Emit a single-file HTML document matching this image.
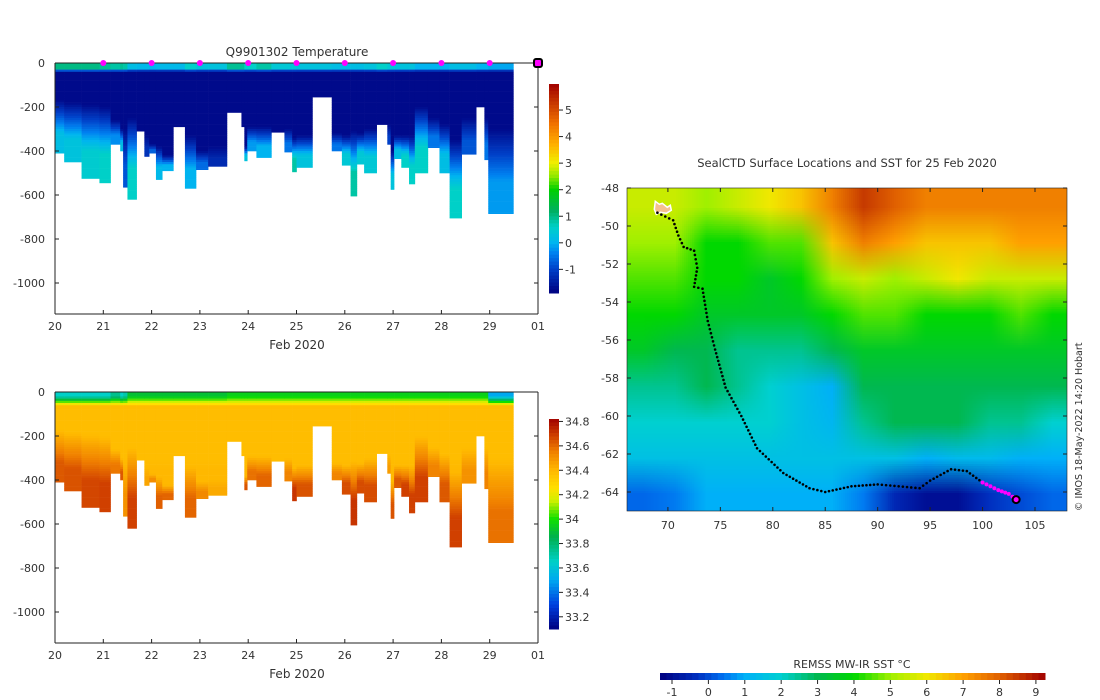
<!DOCTYPE html>
<html><head><meta charset="utf-8">
<style>
html,body{margin:0;padding:0;background:#fff;}
#wrap{position:relative;width:1100px;height:700px;overflow:hidden;font-family:"DejaVu Sans","Liberation Sans",sans-serif;}
svg{position:absolute;left:0;top:0;}
#sst{position:absolute;left:627px;top:188px;width:440px;height:323px;image-rendering:auto;}
text{font-family:"DejaVu Sans","Liberation Sans",sans-serif;fill:#333;}
</style></head>
<body>
<div id="wrap">
<canvas id="sst" width="14" height="9"></canvas>
<svg id="fig" width="1100" height="700" xmlns="http://www.w3.org/2000/svg"></svg>
</div>
<script>
// ---------- profile data ----------
const profileStart=[0,.19,.55,.92,1.15,1.35,1.41,1.50,1.69,1.85,1.95,2.09,2.22,2.45,2.69,2.92,3.17,3.56,3.86,3.92,3.98,4.17,4.48,4.75,4.91,5.00,5.33,5.73,5.94,6.12,6.25,6.40,6.66,6.88,6.95,7.02,7.17,7.33,7.45,7.72,7.96,8.17,8.42,8.72,8.89,8.97];
const profileEndLast=9.49;
const maxDepth=[410,450,525,545,370,400,565,620,310,425,410,530,490,290,570,485,470,225,290,445,400,430,315,405,495,475,155,400,465,605,460,500,280,370,575,435,475,550,500,385,500,705,415,200,440,685];
const coreBottom=[170,180,190,200,260,300,300,250,310,330,370,380,420,290,330,400,380,225,290,380,290,290,315,300,340,330,155,320,330,310,320,300,280,280,400,330,330,330,200,250,280,350,250,200,250,300];
const bottomTemp=[0.2,0.3,0.5,0.6,-0.3,0.2,-0.8,0.6,-1.7,-1.2,-0.7,0.1,0.0,-1.7,0.0,-0.6,-1.3,-1.7,-1.7,0.3,-0.2,0.0,-1.7,-0.5,0.8,0.3,-1.7,-0.5,0.4,0.8,0.4,0.4,-1.7,-1.0,0.3,0.2,0.6,0.6,0.6,-0.5,0.2,0.6,-0.8,-1.7,-0.5,-0.2];
const surfTemp=[1.0,1.0,1.0,0.9,0.8,0.9,0.8,0.2,0.1,0.1,0,0.1,0.1,0.1,0.6,0.3,0.3,0.9,0.9,0.6,0.6,0.8,0.4,0.4,0.4,0.3,0.3,0.2,0.2,0.2,0.2,0.3,0.6,0.4,0.4,0.3,0.3,0.3,0,0,0,0.2,0.2,0,0,-0.1];
const surfSal=[33.65,33.65,33.65,33.65,33.75,33.65,33.7,33.9,33.9,33.9,33.9,33.9,33.9,33.9,33.9,33.9,33.9,33.95,33.95,33.95,33.95,33.95,33.95,33.95,33.95,33.95,33.95,33.95,33.95,33.95,33.95,33.95,33.95,33.95,33.95,33.95,33.95,33.95,33.95,33.95,33.95,33.95,33.95,33.95,33.95,33.5];
const surfaceDays=[1,2,3,4,5,6,7,8,9];
const currentDay=10;
const dayTicks=[0,1,2,3,4,5,6,7,8,9,10];
const dayLabels=["20","21","22","23","24","25","26","27","28","29","01"];
const depthTicks=[0,-200,-400,-600,-800,-1000];
const tempTicks=[5,4,3,2,1,0,-1];
const salTicks=[34.8,34.6,34.4,34.2,34,33.8,33.6,33.4,33.2];
const sstTicks=[-1,0,1,2,3,4,5,6,7,8,9];
// ---------- map data ----------
const mapLons=[67.5,70.5,73.5,76.5,79.5,82.5,85.5,88.5,91.5,94.5,97.5,100.5,103.5,106.5];
const sstGrid=[
[5.5,5.5,5,5.5,6,6.5,7.5,8.5,8,7.5,7.5,7.5,7.5,7.5],
[5,5,4,4,4.5,4.5,6.5,7.5,7,6.5,6.5,6.5,7,7],
[4.5,4.5,4,4,3.5,4,5,5.5,5,5.5,6,5.5,5.5,5.5],
[4,4,3.5,3.5,3.5,3.5,4,4.5,4.5,4,4,4,4.5,4],
[3.5,3,3,2.5,2.5,2.5,3,3.5,3.5,3.5,3.5,3.5,3.5,3.5],
[2.5,2.5,3,2.5,2,1.5,1,3,3,3,3,3,3,3],
[2,2,2,2,2,1.5,1.2,2.5,3,3,3,2.5,2.5,2],
[1.5,1.5,1.5,1.5,1.5,1.5,1.5,1.5,1.5,1,1.3,1.3,1,1],
[0.3,0.5,1,1,1,1,1,0.5,-0.5,-1,-1,-0.3,0,0.3]];
const trackLon=[69,70.5,71,71.5,72.5,72.8,72.5,73.3,73.8,74.5,75.5,77,78.5,81,83.5,85,87.5,90,92,94,95,97,98.5,100,101.5,102.5,103.2];
const trackLat=[-49.3,-49.7,-50.5,-51.1,-51.3,-52.2,-53.2,-53.3,-55,-56.5,-58.5,-60,-61.7,-63,-63.8,-64,-63.7,-63.6,-63.7,-63.8,-63.4,-62.8,-62.9,-63.5,-63.9,-64.1,-64.4];
const latTicks=[-48,-50,-52,-54,-56,-58,-60,-62,-64];
const lonTicks=[70,75,80,85,90,95,100,105];

// ---------- colormaps ----------
function cmap(stops,v){
  if(v<=stops[0][0])return stops[0][1];
  for(let i=1;i<stops.length;i++){if(v<=stops[i][0]){const a=stops[i-1],b=stops[i],t=(v-a[0])/(b[0]-a[0]);
    const c1=hex(a[1]),c2=hex(b[1]);return `rgb(${Math.round(c1[0]+(c2[0]-c1[0])*t)},${Math.round(c1[1]+(c2[1]-c1[1])*t)},${Math.round(c1[2]+(c2[2]-c1[2])*t)})`;}}
  return stops[stops.length-1][1];
}
function hex(h){if(h[0]!=='#')return h.match(/\d+/g).map(Number);return [parseInt(h.substr(1,2),16),parseInt(h.substr(3,2),16),parseInt(h.substr(5,2),16)];}
const tStops=[[-1.89,'#000080'],[-1,'#0040c8'],[-0.4,'#0080f0'],[0,'#00b4f0'],[0.6,'#00d0c8'],[1.2,'#00b060'],[2,'#00d000'],[2.5,'#90e800'],[3,'#f0f000'],[3.7,'#ffb000'],[4.5,'#f07000'],[5.98,'#a00000']];
const sStops=[[33.1,'#000080'],[33.3,'#0040e0'],[33.5,'#00a8f0'],[33.65,'#00d0c8'],[33.85,'#00b050'],[34.0,'#10e000'],[34.15,'#d0f000'],[34.25,'#ffe000'],[34.4,'#ffb800'],[34.55,'#f08000'],[34.68,'#d04000'],[34.82,'#a00000']];
const sstStops=[[-1.33,'#000080'],[-0.3,'#0030c0'],[0.4,'#0070f0'],[1,'#00b0f8'],[2,'#00d0d0'],[3,'#00b850'],[4,'#00d800'],[5,'#a0f000'],[6,'#f0e800'],[7,'#ffa000'],[8,'#e06000'],[9.25,'#a00000']];

// ---------- svg helpers ----------
const NS='http://www.w3.org/2000/svg';
const svg=document.getElementById('fig');
function el(tag,attrs,parent,txt){const e=document.createElementNS(NS,tag);for(const k in attrs)e.setAttribute(k,attrs[k]);if(txt!==undefined)e.textContent=txt;(parent||svg).appendChild(e);return e;}
function grp(name){const g=el('g',{});


return g;}

// ---------- section plot ----------
const X0=55,X1=538;
const xDay=d=>X0+(X1-X0)*d/10;
function tempAt(i,d){if(d<25)return surfTemp[i];if(d<40)return surfTemp[i]+(-1.75-surfTemp[i])*(d-25)/15;if(d<coreBottom[i])return -1.75;
  const span=Math.max(maxDepth[i]-coreBottom[i],1);return -1.75+(bottomTemp[i]+1.75)*Math.min(1,(d-coreBottom[i])/span*1.6);}
function salAt(i,d){if(d<20)return surfSal[i];if(d<60)return surfSal[i]+(34.3-surfSal[i])*(d-20)/40;
  const T=tempAt(i,d);const deep=34.38+0.32*(T+1.75)/2.5;const base=34.3+0.1*Math.min(1,(d-60)/300);return Math.max(base,deep);}

function section(top,title,fn,stops,cbTop,cbBot,vTop,vBot,ticks,prefix,showMarks){
  const yD=m=>top+0.22*(-m)*-1;
  const ydepth=m=>top+0.22*m; // m positive depth
  const g=grp(prefix+'-panel');
  if(title){const t=el('text',{x:297,y:top-7,'text-anchor':'middle','font-size':12,fill:'#222'},g,title);
    
    }
  const cg=grp(prefix+'-profiles');g.appendChild(cg);
  for(let i=0;i<profileStart.length;i++){
    const xa=xDay(profileStart[i]),xb=xDay(i+1<profileStart.length?profileStart[i+1]:profileEndLast);
    const step=10;
    for(let d=0;d<maxDepth[i];d+=step){
      const h=Math.min(step,maxDepth[i]-d);
      const r=el('rect',{x:xa.toFixed(2),y:ydepth(d).toFixed(2),width:(xb-xa+0.3).toFixed(2),height:(0.22*h+0.3).toFixed(2),fill:cmap(stops,fn(i,d+h/2))},cg);
      
      
    }
  }
  // axes
  const bottom=top+251;
  el('line',{x1:X0,y1:top,x2:X0,y2:bottom,stroke:'#222','stroke-width':1},g);
  el('line',{x1:X0,y1:bottom,x2:X1,y2:bottom,stroke:'#222','stroke-width':1},g);
  el('line',{x1:X1,y1:top,x2:X1,y2:bottom,stroke:'#222','stroke-width':1},g);
  el('line',{x1:X0,y1:top,x2:X1,y2:top,stroke:'#222','stroke-width':1},g);
  depthTicks.forEach(v=>{const y=ydepth(-v);el('line',{x1:X0,y1:y,x2:X0+4,y2:y,stroke:'#222'},g);el('line',{x1:X1,y1:y,x2:X1-4,y2:y,stroke:'#222'},g);
    const t=el('text',{x:45,y:y+4,'text-anchor':'end','font-size':11},g,String(v));
    
    });
  dayTicks.forEach((d,k)=>{const x=xDay(d);el('line',{x1:x,y1:bottom,x2:x,y2:bottom-4,stroke:'#222'},g);
    const t=el('text',{x:x,y:bottom+16,'text-anchor':'middle','font-size':11},g,dayLabels[k]);
    
    });
  const xl=el('text',{x:297,y:bottom+35,'text-anchor':'middle','font-size':12},g,'Feb 2020');
  
  
  if(showMarks){
    surfaceDays.forEach(d=>{const c=el('circle',{cx:xDay(d),cy:top,r:3,fill:'#ff00ff'},g);
      
      });
    const c=el('rect',{x:xDay(currentDay)-4,y:top-4,width:8,height:8,rx:2,fill:'#ff00ff',stroke:'#000','stroke-width':2},g);
    
    
  }
  // colorbar
  const cb=grp(prefix+'-colorbar');g.appendChild(cb);
  const n=60;for(let k=0;k<n;k++){const v=vTop+(vBot-vTop)*(k+0.5)/n;
    el('rect',{x:549,y:cbTop+(cbBot-cbTop)*k/n,width:10,height:(cbBot-cbTop)/n+0.5,fill:cmap(stops,v)},cb);}
  const yv=v=>cbTop+(cbBot-cbTop)*(vTop-v)/(vTop-vBot);
  ticks.forEach(v=>{const y=yv(v);el('line',{x1:559,y1:y,x2:563,y2:y,stroke:'#222'},cb);
    const t=el('text',{x:565,y:y+4,'font-size':11},cb,String(v));
    
    });
}
section(63,'Q9901302  Temperature',tempAt,tStops,84,293,5.98,-1.89,tempTicks,'temperature',true);
section(392,null,salAt,sStops,419,629,34.82,33.1,salTicks,'salinity',false);

// ---------- map ----------
const MX0=627,MX1=1067,MY0=188,MY1=511;
const LON0=66.1,LON1=108.05,LAT0=-48,LAT1=-65;
const xLon=l=>MX0+(MX1-MX0)*(l-LON0)/(LON1-LON0);
const yLat=l=>MY0+(MY1-MY0)*(LAT0-l)/(LAT0-LAT1);
const ctx=document.getElementById('sst').getContext('2d');
sstGrid.forEach((row,r)=>row.forEach((v,c)=>{ctx.fillStyle=cmap(sstStops,v);ctx.fillRect(c,r,1,1);}));
const mg=grp('map-panel');
const mt=el('text',{x:847,y:167,'text-anchor':'middle','font-size':11.5,fill:'#222'},mg,'SealCTD Surface Locations and SST for 25 Feb 2020');


el('rect',{x:MX0,y:MY0,width:MX1-MX0,height:MY1-MY0,fill:'none',stroke:'#222','stroke-width':0.6},mg);
latTicks.forEach(v=>{const y=yLat(v);el('line',{x1:MX0,y1:y,x2:MX0+4,y2:y,stroke:'#222'},mg);el('line',{x1:MX1,y1:y,x2:MX1-4,y2:y,stroke:'#222'},mg);
  const t=el('text',{x:619,y:y+4,'text-anchor':'end','font-size':11},mg,String(v));
  
  });
lonTicks.forEach(v=>{const x=xLon(v);el('line',{x1:x,y1:MY0,x2:x,y2:MY0+4,stroke:'#222'},mg);el('line',{x1:x,y1:MY1,x2:x,y2:MY1-4,stroke:'#222'},mg);
  const t=el('text',{x:x,y:529,'text-anchor':'middle','font-size':11},mg,String(v));
  
  });
// Kerguelen islands
const isl=el('path',{d:`M${xLon(68.8)},${yLat(-48.7)} l4,3 l3,-1 l5,4 l3,-2 l1,5 l-5,3 l-6,-1 l-4,2 l-2,-5 z`,fill:'#f5c090',stroke:'#fff','stroke-width':1.5},mg);


// track
const tg=grp('seal-track');mg.appendChild(tg);
for(let i=0;i<trackLon.length-1;i++){
  const x1=xLon(trackLon[i]),y1=yLat(trackLat[i]),x2=xLon(trackLon[i+1]),y2=yLat(trackLat[i+1]);
  const n=Math.max(2,Math.round(Math.hypot(x2-x1,y2-y1)/4));
  for(let k=0;k<n;k++){const t=k/n;const mag=i>=trackLon.length-4;
    const c=el('circle',{cx:x1+(x2-x1)*t,cy:y1+(y2-y1)*t,r:mag?2:1.3,fill:mag?'#ff00ff':'#000'},tg);
    
    }
}
const last=el('circle',{cx:xLon(trackLon[trackLon.length-1]),cy:yLat(trackLat[trackLat.length-1]),r:3.5,fill:'#ff00ff',stroke:'#000','stroke-width':2},tg);


const cr=el('text',{x:0,y:0,'font-size':9.5,transform:'translate(1082,511) rotate(-90)',fill:'#222'},mg,'© IMOS 18-May-2022 14:20 Hobart');


// sst colorbar
const sg=grp('sst-colorbar');
const SX0=660,SX1=1045,SV0=-1.33,SV1=9.25;
for(let k=0;k<60;k++){const v=SV0+(SV1-SV0)*(k+0.5)/60;el('rect',{x:SX0+(SX1-SX0)*k/60,y:673,width:(SX1-SX0)/60+0.5,height:7,fill:cmap(sstStops,v)},sg);}
sstTicks.forEach(v=>{const x=SX0+(SX1-SX0)*(v-SV0)/(SV1-SV0);el('line',{x1:x,y1:680,x2:x,y2:684,stroke:'#222'},sg);
  const t=el('text',{x:x,y:696,'text-anchor':'middle','font-size':11},sg,String(v));
  
  });
const st=el('text',{x:852,y:668,'text-anchor':'middle','font-size':11},sg,'REMSS MW-IR SST °C');


</script>
</body></html>
